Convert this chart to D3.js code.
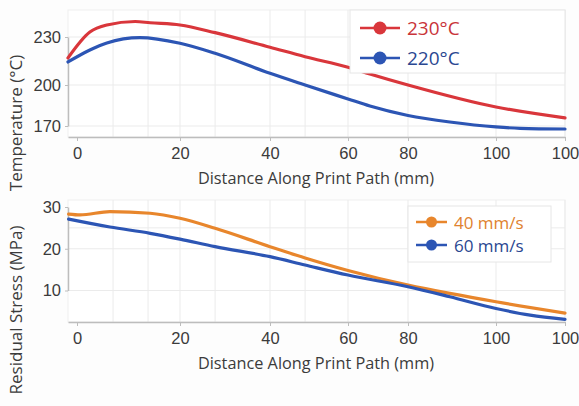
<!DOCTYPE html>
<html>
<head>
<meta charset="utf-8">
<script src="https://cdn.jsdelivr.net/npm/d3@7"></script>
<style>
  body { margin: 0; background: #fdfdfd; }
  svg { font-family: "Open Sans", "Noto Sans", sans-serif; }
</style>
</head>
<body>
<div id="vis"></div>
<script>
// x positions along the axis (tick units)
const xTickValues = [0, 20, 40, 60, 80, 100, 120];
const xTickLabels = ["0", "20", "40", "60", "80", "100", "100"];
const xGrid = [7, 13.8, 20, 27.8, 40, 49, 60, 80, 100, 120];

// top panel: temperature
const dist230 = [-1.5, 2.5, 5.8, 11.3, 14.2, 20, 27.8, 40, 49, 60, 67.3, 80, 100, 120];
const temp230 = [216.9, 233.1, 237.5, 239.7, 238.9, 237.5, 232.7, 223.6, 217.7, 211.1, 206.9, 200, 183.9, 175.9];
const dist220 = [-1.5, 2.5, 5.8, 12.2, 20, 27.8, 40, 49, 60, 67.3, 80, 89.5, 100, 107, 120];
const temp220 = [214.4, 221.9, 226.3, 229.6, 226.1, 219.8, 207.3, 200.0, 189.8, 184.6, 177.7, 172.9, 169.3, 168.3, 167.8];
const tempTicks = [170, 200, 230];
const tempLegend = ["230°C", "220°C"];

// bottom panel: residual stress
const dist40 = [-1.4, 0.6, 6.4, 14.2, 20, 27.8, 40, 49, 60, 80, 89.5, 100, 120];
const stress40 = [28.3, 28.1, 28.9, 28.5, 27.3, 24.9, 20.5, 17.8, 14.8, 11.3, 9.3, 7.3, 4.6];
const dist60 = [-1.4, 6.4, 14.2, 20, 27.8, 40, 49, 60, 80, 89.5, 100, 109.9, 120];
const stress60 = [27.1, 25.2, 23.7, 22.3, 20.5, 18.1, 16.1, 13.7, 10.9, 8.5, 5.7, 4.1, 3.1];
const stressTicks = [10, 20, 30];
const stressGrid = [10, 20, 25];
const stressLegend = ["40 mm/s", "60 mm/s"];

const W = 579, H = 406;
const svg = d3.select("#vis").append("svg").attr("width", W).attr("height", H);

// x axis is not evenly spaced in the reference, so piecewise scale
const x = d3.scaleLinear()
  .domain([-1.5, 0, 20, 40, 60, 80, 100, 120])
  .range([68, 77, 180, 270, 348, 408, 496, 565]);

const gridColor = "#ebebeb";
const axisColor = "#bdbdbd";
const textColor = "#3b3b3b";

function panel(opts) {
  const g = svg.append("g");
  const y = opts.y;
  const [top, bottom] = [opts.top, opts.bottom];

  // frame
  g.append("rect")
    .attr("x", x(-1.5)).attr("y", top)
    .attr("width", x(120) - x(-1.5)).attr("height", bottom - top)
    .attr("fill", "#fff").attr("stroke", "#efefef");

  // grid
  g.selectAll(".vg").data(xGrid).join("line")
    .attr("x1", d => x(d)).attr("x2", d => x(d))
    .attr("y1", top).attr("y2", bottom)
    .attr("stroke", gridColor).attr("stroke-width", 1);
  g.selectAll(".hg").data(opts.grid).join("line")
    .attr("x1", x(-1.5)).attr("x2", x(120))
    .attr("y1", d => y(d)).attr("y2", d => y(d))
    .attr("stroke", gridColor).attr("stroke-width", 1);

  // x axis
  const xAxis = d3.axisBottom(x)
    .tickValues(xTickValues)
    .tickFormat((d, i) => xTickLabels[i])
    .tickSize(4).tickSizeOuter(0).tickPadding(6);
  const gx = g.append("g").attr("transform", `translate(0,${bottom})`).call(xAxis);
  gx.select(".domain").attr("stroke", axisColor).attr("stroke-width", 1.5);
  gx.selectAll(".tick line").attr("stroke", axisColor);
  gx.selectAll("text").attr("fill", textColor).attr("font-size", 16.5);

  // y axis
  const yAxis = d3.axisLeft(y).tickValues(opts.ticks).tickSize(3).tickSizeOuter(0).tickPadding(4);
  const gy = g.append("g").attr("transform", `translate(${x(-1.5)},0)`).call(yAxis);
  gy.select(".domain").attr("stroke", axisColor).attr("stroke-width", 1.5);
  gy.selectAll(".tick line").attr("stroke", axisColor);
  gy.selectAll("text").attr("fill", textColor).attr("font-size", 16.5);

  // titles
  g.append("text")
    .attr("x", 316).attr("y", bottom + 47)
    .attr("text-anchor", "middle").attr("font-size", 16.3)
    .attr("fill", textColor)
    .text("Distance Along Print Path (mm)");
  g.append("text")
    .attr("transform", `translate(22,${opts.yTitleY}) rotate(-90)`)
    .attr("text-anchor", "middle").attr("font-size", 17)
    .attr("fill", textColor)
    .text(opts.yTitle);

  // lines
  const line = d3.line().x(d => x(d[0])).y(d => y(d[1])).curve(d3.curveMonotoneX);
  opts.series.forEach(s => {
    g.append("path")
      .datum(d3.zip(s.xs, s.ys))
      .attr("fill", "none")
      .attr("stroke", s.color)
      .attr("stroke-width", 3.2)
      .attr("stroke-linecap", "round")
      .attr("d", line);
  });

  // legend
  const L = opts.legend;
  const lg = g.append("g");
  lg.append("rect")
    .attr("x", L.x).attr("y", L.y).attr("width", L.w).attr("height", L.h)
    .attr("fill", "#fff").attr("stroke", "#e6e6e6");
  opts.series.forEach((s, i) => {
    const yy = L.y + L.first + i * L.step;
    lg.append("line")
      .attr("x1", L.x + L.pad).attr("x2", L.x + L.pad + L.len)
      .attr("y1", yy).attr("y2", yy)
      .attr("stroke", s.color).attr("stroke-width", 2.5);
    lg.append("circle")
      .attr("cx", L.x + L.pad + L.len / 2).attr("cy", yy).attr("r", L.r)
      .attr("fill", s.color);
    lg.append("text")
      .attr("x", L.x + L.pad + L.len + 7).attr("y", yy)
      .attr("dominant-baseline", "central")
      .attr("font-size", L.fs)
      .attr("fill", s.textColor)
      .text(s.label);
  });
}

panel({
  top: 10, bottom: 137,
  y: d3.scaleLinear().domain([170, 200, 230]).range([126, 85, 37]),
  ticks: tempTicks, grid: tempTicks,
  yTitle: "Temperature (°C)", yTitleY: 123,
  series: [
    { xs: dist230, ys: temp230, color: "#d9363b", textColor: "#c9343a", label: tempLegend[0] },
    { xs: dist220, ys: temp220, color: "#2c55b4", textColor: "#2a4791", label: tempLegend[1] }
  ],
  legend: { x: 350, y: 10, w: 215, h: 63, first: 18, step: 30, pad: 10, len: 40, r: 6.5, fs: 19 }
});

panel({
  top: 200, bottom: 322,
  y: d3.scaleLinear().domain([10, 30]).range([290.5, 207]),
  ticks: stressTicks, grid: stressGrid,
  yTitle: "Residual Stress (MPa)", yTitleY: 310,
  series: [
    { xs: dist40, ys: stress40, color: "#e8862c", textColor: "#e0822e", label: stressLegend[0] },
    { xs: dist60, ys: stress60, color: "#2c55b4", textColor: "#2a4791", label: stressLegend[1] }
  ],
  legend: { x: 408, y: 206, w: 143, h: 56, first: 16, step: 23, pad: 8, len: 31, r: 5.5, fs: 17 }
});
</script>
</body>
</html>
